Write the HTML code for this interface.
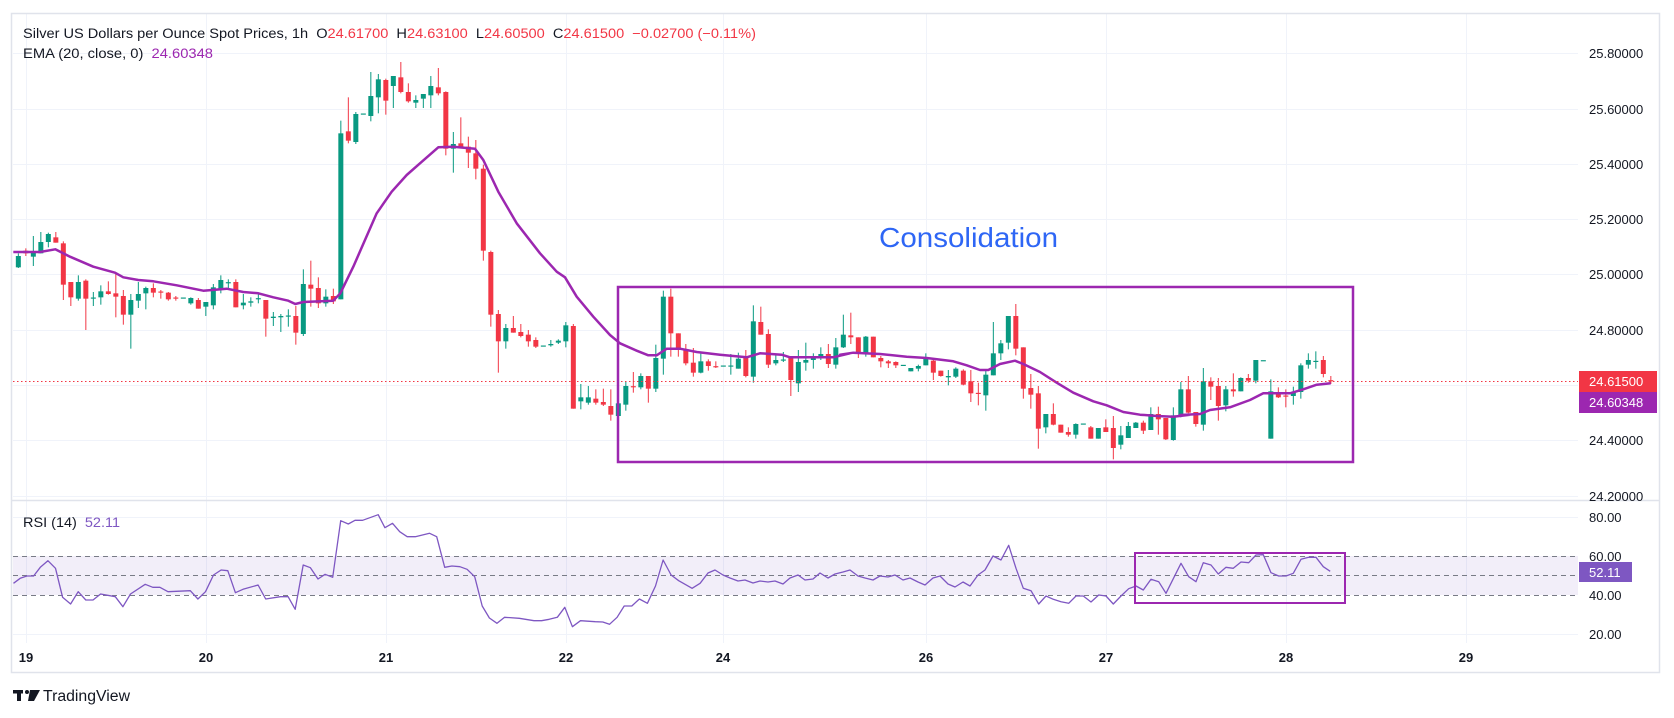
<!DOCTYPE html>
<html><head><meta charset="utf-8"><style>
html,body{margin:0;padding:0;background:#fff;}
svg{display:block;font-family:"Liberation Sans",sans-serif;}
</style></head><body>
<svg id="s" width="1674" height="718" viewBox="0 0 1674 718" xmlns="http://www.w3.org/2000/svg">
<rect x="0" y="0" width="1674" height="718" fill="#fff"/>
<g id="grid" stroke="#f0f3fa" stroke-width="1"></g>
<rect x="13" y="556" width="1565" height="39" fill="#7e57c2" fill-opacity="0.1"/>
<g stroke="#787b86" stroke-width="1" stroke-dasharray="5,4">
<line x1="13" y1="556.5" x2="1578" y2="556.5"/><line x1="13" y1="575.5" x2="1578" y2="575.5"/><line x1="13" y1="595.5" x2="1578" y2="595.5"/>
</g>
<g id="cand" transform="translate(0,40) scale(0.333333)"></g>
<polyline id="ema" fill="none" stroke="#9c27b0" stroke-width="2.5" stroke-linejoin="round"/>
<polyline id="rsi" fill="none" stroke="#7e57c2" stroke-width="1.3" stroke-linejoin="round"/>
<line x1="13" y1="381.5" x2="1578" y2="381.5" stroke="#f23645" stroke-width="1" stroke-dasharray="1.5,2.5"/>
<rect x="618" y="287" width="735" height="175" fill="none" stroke="#9c27b0" stroke-width="2.5"/>
<rect x="1135" y="553" width="210" height="50" fill="none" stroke="#9c27b0" stroke-width="2"/>
<text x="879" y="247" font-size="28" fill="#2e66f5" textLength="179" lengthAdjust="spacingAndGlyphs">Consolidation</text>
<rect x="11.5" y="13.5" width="1648" height="659" fill="none" stroke="#e0e3eb" stroke-width="1.5"/>
<line x1="11" y1="500.5" x2="1660" y2="500.5" stroke="#e0e3eb" stroke-width="1.5"/>
<g font-size="13" fill="#131722" id="pax"></g>
<rect x="1579" y="371" width="78" height="21" fill="#f23645"/>
<text x="1589" y="386" font-size="13" fill="#fff">24.61500</text>
<rect x="1579" y="392" width="78" height="21" fill="#9c27b0"/>
<text x="1589" y="407" font-size="13" fill="#fff">24.60348</text>
<rect x="1579" y="562" width="53" height="20" fill="#7e57c2"/>
<text x="1589" y="577" font-size="13" fill="#fff">52.11</text>
<g font-size="13" font-weight="bold" fill="#131722" text-anchor="middle">
<text x="26" y="662">19</text><text x="206" y="662">20</text><text x="386" y="662">21</text><text x="566" y="662">22</text><text x="723" y="662">24</text><text x="926" y="662">26</text><text x="1106" y="662">27</text><text x="1286" y="662">28</text><text x="1466" y="662">29</text>
</g>
<text x="23" y="38" font-size="13.5" fill="#131722" textLength="733" lengthAdjust="spacingAndGlyphs">Silver US Dollars per Ounce Spot Prices, 1h&#160;&#160;O<tspan fill="#f23645">24.61700</tspan>&#160;&#160;H<tspan fill="#f23645">24.63100</tspan>&#160;&#160;L<tspan fill="#f23645">24.60500</tspan>&#160;&#160;C<tspan fill="#f23645">24.61500&#160;&#160;−0.02700 (−0.11%)</tspan></text>
<text x="23" y="58" font-size="13.5" fill="#131722" textLength="190" lengthAdjust="spacingAndGlyphs">EMA (20, close, 0)&#160;&#160;<tspan fill="#9c27b0">24.60348</tspan></text>
<text x="23" y="527" font-size="13.5" fill="#131722" textLength="97" lengthAdjust="spacingAndGlyphs">RSI (14)&#160;&#160;<tspan fill="#7e57c2">52.11</tspan></text>
<g fill="#131722">
<rect x="13" y="690" width="10" height="3.5"/><rect x="17" y="690" width="4" height="11"/>
<circle cx="27" cy="692" r="2"/>
<polygon points="30,690 40,690 34,701 28,701"/>
</g>
<text x="43" y="701" font-size="15.5" fill="#131722" textLength="87" lengthAdjust="spacingAndGlyphs">TradingView</text>
</svg>
<script>
var NS="http://www.w3.org/2000/svg";
function el(p,t,a){var e=document.createElementNS(NS,t);for(var k in a)e.setAttribute(k,a[k]);p.appendChild(e);return e;}
var g=document.getElementById('grid');
[53,109,164,219,274,330,385,440,496,517,634].forEach(function(y){el(g,'line',{x1:13,x2:1578,y1:y+.5,y2:y+.5});});
[26,206,386,566,723,926,1106,1286,1466].forEach(function(x){el(g,'line',{x1:x+.5,x2:x+.5,y1:14,y2:643});});
var pax=document.getElementById('pax');
[["25.80000",53],["25.60000",109],["25.40000",164],["25.20000",219],["25.00000",274],["24.80000",330],["24.40000",440],["24.20000",496],["80.00",517],["60.00",556],["40.00",595],["20.00",634]].forEach(function(a){var t=el(pax,'text',{x:1589,y:a[1]+5});t.textContent=a[0];});
var D="g 648 682 640 684|r 632 640 625 648|g 636 650 588 678|g 606 640 576 640|g 582 606 578 622|r 592 608 576 608|r 610 734 604 780|r 726 772 726 798|g 726 776 706 782|r 722 776 718 870|g 774 774 756 798|g 754 772 736 794|r 754 762 724 764|r 760 770 698 832|r 768 824 750 854|g 780 824 762 926|g 762 782 726 804|g 744 760 740 808|r 744 758 730 772|r 756 756 750 776|r 758 778 756 782|r 774 774 768 782|g 774 774 774 774|g 774 790 772 794|r 780 806 774 806|g 786 800 786 828|g 742 796 732 808|g 720 746 706 760|g 728 728 718 744|r 726 802 718 802|g 788 796 762 808|g 784 788 772 800|g 776 776 760 790|r 780 836 780 890|g 830 834 816 858|g 828 832 822 876|g 828 828 808 860|r 828 878 798 914|g 732 882 688 888|r 734 746 662 800|r 744 790 712 804|g 770 790 748 800|r 768 784 746 792|g 280 778 242 778|r 274 302 172 310|g 222 306 216 312|g 222 222 222 222|g 168 228 96 244|g 118 172 102 220|r 120 182 116 224|g 108 138 108 204|r 112 156 66 160|r 156 184 130 188|g 180 188 166 204|g 162 176 162 204|g 138 166 108 204|r 142 160 84 166|r 156 326 154 346|g 312 326 276 398|r 310 320 232 322|r 320 338 290 384|r 340 386 300 418|r 386 632 374 662|r 636 824 632 860|r 822 904 810 998|g 864 904 852 926|r 864 878 828 878|r 876 888 852 892|r 884 904 870 920|r 900 920 892 924|g 918 918 918 918|g 912 916 900 920|g 902 908 898 912|g 856 904 846 922|r 858 1106 852 1106|g 1072 1084 1032 1108|g 1072 1088 1038 1094|r 1076 1088 1048 1094|r 1086 1094 1046 1098|r 1098 1124 1048 1142|g 1090 1128 1060 1196|g 1038 1094 1024 1112|r 1040 1040 996 1058|g 1008 1042 1000 1048|r 1008 1046 1008 1088|g 954 1046 914 1056|g 770 956 752 1004|r 770 880 746 950|r 880 930 880 950|r 928 970 912 976|r 968 998 924 1010|g 964 998 940 1000|r 964 978 958 992|r 980 980 964 984|g 978 978 978 978|g 978 978 942 1004|g 956 986 938 986|r 952 1008 930 1012|g 844 1010 796 1028|r 846 884 800 884|r 882 974 868 984|g 960 970 946 976|g 960 960 936 966|r 954 1020 950 1068|g 966 1030 930 1056|g 960 968 908 992|g 950 960 940 986|g 942 954 922 960|r 942 972 912 984|g 922 974 894 986|g 884 922 824 924|r 886 892 818 912|r 892 940 892 954|g 890 940 888 950|r 890 952 890 952|r 954 964 948 982|r 964 970 960 984|r 966 976 964 984|g 976 976 976 976|g 984 994 984 994|g 978 986 974 994|g 954 976 940 976|r 962 998 958 1020|r 992 1008 992 1010|g 1008 1012 990 1036|g 986 1010 982 1014|r 992 1034 988 1036|r 1024 1060 990 1086|r 1060 1060 1028 1096|g 1004 1066 992 1112|g 940 1006 846 1006|g 910 940 900 960|g 828 908 828 928|r 828 926 792 946|r 922 1046 922 1076|r 1044 1064 1002 1106|r 1060 1166 1038 1226|g 1122 1162 1122 1180|r 1122 1154 1090 1156|r 1154 1178 1154 1178|r 1176 1184 1162 1190|g 1152 1184 1150 1196|g 1152 1152 1152 1152|r 1162 1196 1158 1196|g 1164 1196 1164 1196|r 1162 1176 1138 1176|r 1164 1224 1128 1258|g 1186 1214 1158 1228|g 1158 1194 1146 1194|g 1148 1164 1146 1164|r 1148 1172 1142 1182|g 1122 1170 1102 1170|r 1122 1138 1100 1184|r 1134 1198 1134 1200|g 1126 1200 1102 1202|g 1048 1126 1026 1132|r 1048 1118 1008 1120|r 1116 1152 1116 1160|g 1024 1154 984 1172|r 1024 1040 1012 1080|r 1038 1098 1014 1142|g 1048 1096 1038 1114|r 1048 1054 1000 1070|g 1014 1054 1012 1054|r 1014 1022 1002 1028|g 960 1022 960 1030|g 962 962 962 962|g 1054 1196 1018 1196|r 1058 1072 1042 1074|r 1068 1068 1048 1102|g 1056 1068 1040 1094|g 976 1056 970 1076|g 960 974 940 986|g 964 964 934 986|r 960 1002 948 1012|r 1022 1022 1008 1032";
var cg=document.getElementById('cand');
D.split('|').forEach(function(s,i){var a=s.split(' ');var c=a[0]=='g'?'#089981':'#f23645';
var bt=+a[1],bb=+a[2],wt=+a[3],wb=+a[4];var x=55+22.5*i;
if(wb>wt)el(cg,'rect',{x:x-1.5,y:wt,width:3,height:wb-wt,fill:c});
var h=bb-bt;if(h<4){bt=(bt+bb)/2-1.5;h=3.5;}
el(cg,'rect',{x:x-7.5,y:bt,width:15,height:h,fill:c});});
function cv(pts,ox,oy){return pts.map(function(p){return [(p[0]+ox)/3,40+(p[1]+oy)/3];});}
var e=[];
e=e.concat(cv([[40,636],[120,636],[166,628],[210,650],[280,680],[345,698],[370,712],[415,720],[460,724],[530,736],[610,752],[680,746],[730,756],[775,760],[820,772],[865,782],[886,792],[910,786],[1000,782],[1021,760],[1060,680],[1130,520],[1175,455],[1220,405]],0,0));
e=e.concat(cv([[0,370],[55,322],[100,320],[165,326],[190,360],[235,455],[290,550],[360,640],[410,695],[435,712],[470,770],[520,830],[570,885],[600,910],[650,932],[685,946],[710,946],[740,926],[780,926],[830,936],[900,944],[980,952],[1020,940],[1085,944],[1110,952],[1240,952],[1290,940]],1260,0));
e=e.concat(cv([[0,404],[40,398],[120,402],[200,410],[260,414],[340,424],[380,436],[420,450],[445,450],[480,432],[525,422],[550,432],[600,456],[650,488],[700,518],[760,544],[800,556],[850,576],[900,584],[950,588],[1000,590],[1050,584]],2520,540));
e=e.concat(cv([[0,585],[60,582],[90,570],[150,562],[210,540],[250,520],[330,520],[370,508],[410,494],[452,490]],3540,540));
document.getElementById('ema').setAttribute('points',e.map(function(p){return p[0].toFixed(1)+','+p[1].toFixed(1);}).join(' '));
var r=[];
[[30,310],[45,295],[60,288],[75,288],[90,262],[107,242],[124,265],[140,352],[158,372],[175,335],[192,360],[208,360],[225,342],[258,350],[275,380],[292,342],[325,313],[342,322],[358,322],[376,335],[426,332],[443,357],[460,335],[478,285],[495,270],[510,272],[527,338],[544,328],[578,315],[595,357],[628,350],[645,350],[661,388],[679,255],[695,263],[712,297],[728,283],[745,292],[763,122],[780,132],[795,121],[812,121],[847,104],[862,143],[879,130],[895,155],[912,170],[930,170],[962,160],[978,170],[996,262],[1012,258],[1030,260],[1046,268],[1063,290],[1080,378],[1096,414],[1113,430],[1130,412],[1163,415],[1196,422],[1213,422],[1230,418],[1248,412],[1265,382],[1282,440],[1300,422],[1333,425],[1350,426],[1365,433],[1382,412],[1398,378],[1415,378],[1432,357],[1450,370],[1468,318],[1485,240],[1503,285],[1520,302],[1550,325],[1568,310]].forEach(function(p){r.push([26+(p[0]-58)/2.24,480+p[1]/3]);});
[[708,573],[715,570],[723,575],[730,578],[738,581],[745,580],[753,583],[760,581],[768,582],[775,581],[783,584],[790,578],[798,575],[805,580],[813,579],[820,573],[828,578],[835,574],[843,572],[850,570],[858,576],[865,578],[873,580],[880,576],[888,577],[895,575],[903,580],[910,578],[918,582],[925,585],[933,578],[940,576],[948,584],[955,587],[963,582],[970,586],[978,575],[985,570],[993,556]].forEach(function(p){r.push(p);});
[[0,240],[18,196],[35,265],[52,325],[70,332],[88,372],[105,348],[122,358],[140,365],[158,370],[175,348],[192,348],[210,366],[228,345],[245,348],[262,372],[280,348],[298,326],[315,318],[332,330],[350,298],[368,305],[385,340],[402,296],[420,250],[438,290],[455,305],[472,248],[490,255],[507,282],[525,262],[542,265],[560,246],[578,248],[595,225],[612,224],[630,278],[648,288],[665,288],[682,280],[700,238],[718,232],[735,232],[752,260],[768,274]].forEach(function(p){r.push([1106+(p[0]-245)/2.333,480+p[1]/3]);});
document.getElementById('rsi').setAttribute('points',r.map(function(p){return p[0].toFixed(1)+','+p[1].toFixed(1);}).join(' '));
</script>
</body></html>
